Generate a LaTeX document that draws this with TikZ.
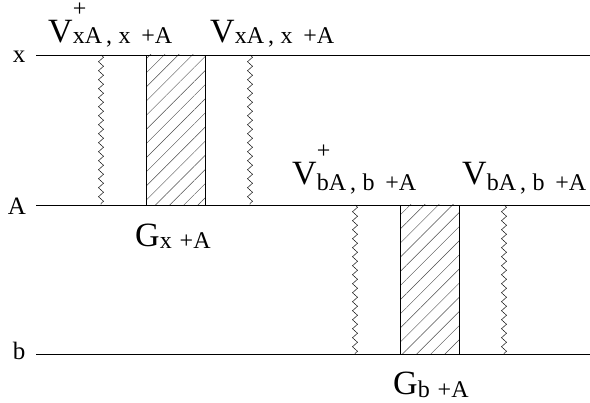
\documentclass[tikz,border=0pt]{standalone}
\usepackage{fontspec}
\setmainfont{Liberation Serif}
\usepackage{tikz}
\usetikzlibrary{patterns.meta,decorations.pathmorphing}
\newcommand\subfont{\fontsize{24}{24}\selectfont}
\newcommand\term[4]{#1\rlap{\raisebox{26pt}[36pt][0pt]{\subfont#2}}\raisebox{-#4}{\subfont#3}}
\tikzset{level/.style={draw=black,line width=0.6pt},wave/.style={draw=black,line width=0.45pt,decorate,decoration={zigzag,amplitude=2.5pt,segment length=9pt}},blob/.style={draw=black,line width=0.7pt,pattern={Lines[angle=45,distance=10pt,line width=0.45pt]},pattern color=black!70},lvl/.style={font=\fontsize{25}{26}\selectfont,inner sep=0pt,anchor=base},vlab/.style={font=\fontsize{34}{36}\selectfont,inner sep=0pt,anchor=base west}}
\begin{document}
\begin{tikzpicture}[x=1pt,y=-1pt]
\useasboundingbox (0,0) rectangle (590,403);
\foreach \n/\y/\yb/\xc in {x/55/63/19,A/205/215/17,b/354/360/19}{\node[lvl] (l\n) at (\xc,\yb) {\n};\coordinate (s\n) at (36,\y);\coordinate (e\n) at (590,\y);\draw[level] (s\n)--(e\n);}
\draw[blob] (146,55) rectangle (205,205);
\draw[blob] (400,205) rectangle (459,354);
\foreach \x/\t/\u in {101/55/205,250/55/205,355/205/354,504/205/354}{\draw[wave] (\x,\t)--(\x,\u);}
\node[vlab] (vpx) at (48,43) {\term{V}{+}{xA\,,\;x\;\,+A}{1pt}};
\node[vlab] (vx) at (210,43) {\term{V}{}{xA\,,\;x\;\,+A}{1pt}};
\node[vlab] (vpb) at (292,185) {\term{V}{+}{bA\,,\;b\;\,+A}{6pt}};
\node[vlab] (vb) at (462,185) {\term{V}{}{bA\,,\;b\;\,+A}{6pt}};
\node[vlab] (gx) at (135,247) {\term{G}{}{x\,\,+A}{2pt}};
\node[vlab] (gb) at (393,395) {\term{G}{}{b\,\,+A}{3pt}};
\end{tikzpicture}
\end{document}
